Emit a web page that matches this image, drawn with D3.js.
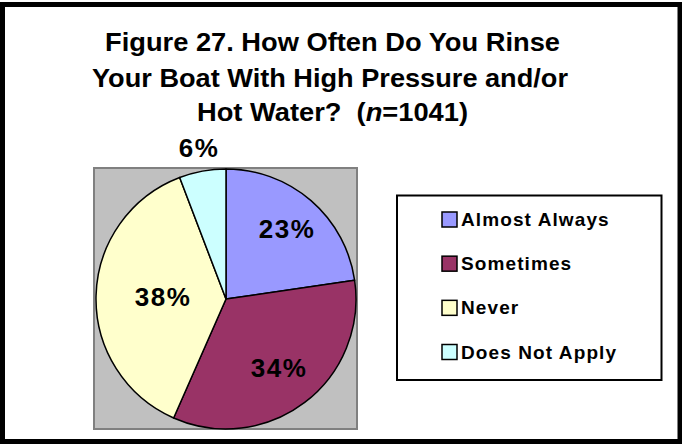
<!DOCTYPE html>
<html>
<head>
<meta charset="utf-8">
<script src="https://cdn.jsdelivr.net/npm/d3@7"></script>
<style>
  html, body { margin: 0; padding: 0; background: #fff; }
  svg { display: block; }
  text { font-family: "Liberation Sans", Arial, sans-serif; font-weight: bold; fill: #000; white-space: pre; }
</style>
</head>
<body>
<svg id="chart" width="682" height="444"></svg>
<script>
// ---- Data ----
const categories = ["Almost Always", "Sometimes", "Never", "Does Not Apply"];
const values = [22.7, 33.9, 37.6, 5.8];          // percent of respondents
const labels = ["23%", "34%", "38%", "6%"];
const colors = ["#9999FF", "#993366", "#FFFFCC", "#CCFFFF"];
const labelRadius = [0.71, 0.665, 0.49, 1.18];    // label placement (fraction of radius)
const titleLines = ["Figure 27. How Often Do You Rinse", "Your Boat With High Pressure and/or", "Hot Water?  (", "n", "=1041)"];

const svg = d3.select("#chart");

// outer frame
svg.append("rect").attr("x", 2.5).attr("y", 4.5).attr("width", 677.5).attr("height", 437)
  .attr("fill", "#fff").attr("stroke", "#000").attr("stroke-width", 5);

// title
const title = svg.append("g");
title.append("text").attr("x", 105).attr("y", 51).attr("font-size", 26)
  .attr("textLength", 455).attr("lengthAdjust", "spacingAndGlyphs").text(titleLines[0]);
title.append("text").attr("x", 92).attr("y", 86.5).attr("font-size", 26)
  .attr("textLength", 476).attr("lengthAdjust", "spacingAndGlyphs").text(titleLines[1]);
const t3 = title.append("text").attr("x", 197).attr("y", 120.5).attr("font-size", 26)
  .attr("textLength", 271).attr("lengthAdjust", "spacingAndGlyphs");
t3.append("tspan").text(titleLines[2]);
t3.append("tspan").attr("font-style", "italic").text(titleLines[3]);
t3.append("tspan").text(titleLines[4]);

// plot area
svg.append("rect").attr("x", 94).attr("y", 168).attr("width", 263).attr("height", 261)
  .attr("fill", "#C0C0C0").attr("stroke", "#808080").attr("stroke-width", 2);

// pie
const cx = 226, cy = 299, r = 130;
const pie = d3.pie().sort(null).value(d => d)(values);
const arc = d3.arc().innerRadius(0).outerRadius(r);
const g = svg.append("g").attr("transform", `translate(${cx},${cy})`);
g.selectAll("path").data(pie).enter().append("path")
  .attr("d", arc).attr("fill", (d, i) => colors[i])
  .attr("stroke", "#000").attr("stroke-width", 1.5).attr("stroke-linejoin", "round");

// data labels
g.selectAll("text.lbl").data(pie).enter().append("text")
  .attr("class", "lbl")
  .attr("font-size", 26)
  .attr("letter-spacing", 1.5)
  .attr("text-anchor", "middle")
  .attr("transform", (d, i) => {
    const a = d3.arc().innerRadius(r * labelRadius[i]).outerRadius(r * labelRadius[i]);
    const c = a.centroid(d);
    return `translate(${c[0] + 0.75},${c[1] + 9})`;
  })
  .text((d, i) => labels[i]);

// legend
const lg = svg.append("g");
lg.append("rect").attr("x", 397).attr("y", 195.5).attr("width", 264.5).attr("height", 184.5)
  .attr("fill", "#fff").attr("stroke", "#000").attr("stroke-width", 2);
const ly = d3.scalePoint().domain(categories).range([219.5, 352]);
const items = lg.selectAll("g.item").data(categories).enter().append("g")
  .attr("transform", d => `translate(0,${ly(d)})`);
items.append("rect").attr("x", 442).attr("y", -7.5).attr("width", 15).attr("height", 15)
  .attr("fill", (d, i) => colors[i]).attr("stroke", "#000").attr("stroke-width", 1.5);
items.append("text").attr("x", 461).attr("y", 6.5).attr("font-size", 19)
  .attr("letter-spacing", 1.1).text(d => d);
</script>
</body>
</html>
